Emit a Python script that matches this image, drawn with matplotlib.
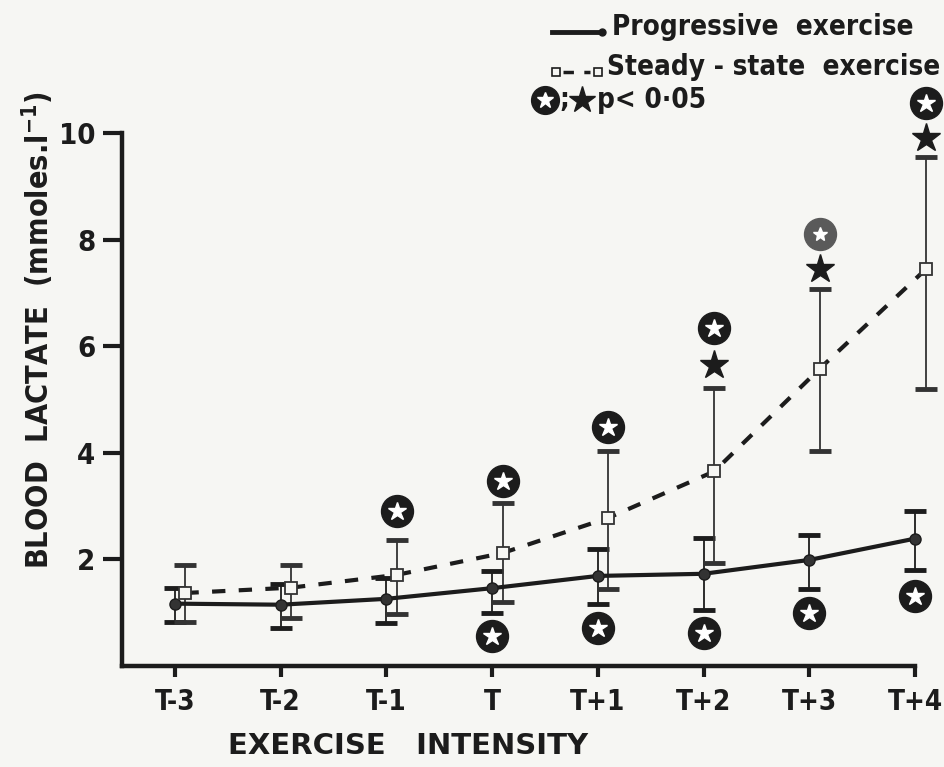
import matplotlib.pyplot as plt
from matplotlib import font_manager
import numpy as np

# condensed bold face if the system has one, Arial-like bold otherwise
_cond = font_manager.findfont(font_manager.FontProperties(family='DejaVu Sans', stretch='condensed',
                                                          weight='bold'))
if 'Condensed' in _cond:
    plt.rcParams['font.family'] = ['DejaVu Sans']
    plt.rcParams['font.stretch'] = 'condensed'
else:
    plt.rcParams['font.family'] = ['Liberation Sans', 'DejaVu Sans']
plt.rcParams['font.weight'] = 'bold'

INK = '#1c1c1c'
PAPER = '#f6f6f3'

labels = ['T-3', 'T-2', 'T-1', 'T', 'T+1', 'T+2', 'T+3', 'T+4']

# progressive exercise: mean with SD bounds
prog_mean = [1.17, 1.15, 1.26, 1.46, 1.69, 1.73, 1.99, 2.39]
prog_upper = [1.47, 1.54, 1.65, 1.79, 2.20, 2.41, 2.46, 2.90]
prog_lower = [0.83, 0.72, 0.80, 1.00, 1.17, 1.05, 1.45, 1.80]

# steady-state exercise
ss_mean = [1.37, 1.47, 1.71, 2.12, 2.78, 3.65, 5.58, 7.44]
ss_upper = [1.90, 1.90, 2.37, 3.05, 4.04, 5.22, 7.08, 9.55]
ss_lower = [0.83, 0.90, 0.98, 1.20, 1.45, 1.94, 4.04, 5.20]

# significance symbols
circ_ss_idx = [2, 3, 4, 5, 6, 7]
circ_ss_y = [2.90, 3.48, 4.48, 6.35, 8.10, 10.56]
star_idx = [5, 6, 7]
star_y = [5.64, 7.45, 9.90]
circ_prog_idx = [3, 4, 5, 6, 7]
circ_prog_y = [0.56, 0.72, 0.62, 1.00, 1.32]

x = np.arange(len(labels))
xs = x + 0.1   # steady-state points sit just right of the tick

fig = plt.figure(figsize=(9.45, 7.67), dpi=100, facecolor=PAPER)
ax = fig.add_axes([122/945, 101/767, 793/945, 533/767])
ax.set_facecolor(PAPER)


def circled_star(xv, yv, face=INK, inner=13.5):
    ax.plot(xv, yv, 'o', ms=23, color=face, mec=face, clip_on=False, zorder=6)
    ax.plot(xv, yv, '*', ms=inner, color='white', mec='white', clip_on=False, zorder=7)


def unclip(eb):
    for part in eb.lines:
        if part is None:
            continue
        for a in (part if isinstance(part, tuple) else [part]):
            a.set_clip_on(False)


pm = np.array(prog_mean)
eb = ax.errorbar(x, pm, yerr=[pm - np.array(prog_lower), np.array(prog_upper) - pm],
                 fmt='none', ecolor=INK, elinewidth=1.3, capsize=8, capthick=3.5, zorder=3)
unclip(eb)
ax.plot(x, pm, '-o', color=INK, lw=3, ms=8, mfc='#333333', mec=INK, zorder=4, clip_on=False)

sm = np.array(ss_mean)
eb = ax.errorbar(xs, sm, yerr=[sm - np.array(ss_lower), np.array(ss_upper) - sm],
                 fmt='none', ecolor='#333333', elinewidth=1.3, capsize=8, capthick=3.5, zorder=3)
unclip(eb)
ax.plot(xs, sm, color=INK, lw=3, dashes=(3.2, 3.2), zorder=2, clip_on=False)
ax.plot(xs, sm, 's', ms=8, mfc=PAPER, mec='#333333', mew=1.3, zorder=5, clip_on=False)

for i, yv in zip(circ_ss_idx, circ_ss_y):
    if labels[i] == 'T+3':
        circled_star(xs[i], yv, face='#5a5a5a', inner=10)
    else:
        circled_star(xs[i], yv)
ax.plot(xs[star_idx], star_y, '*', ms=21, color=INK, clip_on=False, zorder=6)
for i, yv in zip(circ_prog_idx, circ_prog_y):
    circled_star(x[i], yv)

ax.set_xlim(-0.5, 7)
ax.set_ylim(0, 10)
ax.spines['top'].set_visible(False)
ax.spines['right'].set_visible(False)
for s in ('left', 'bottom'):
    ax.spines[s].set_linewidth(3.2)
    ax.spines[s].set_color(INK)
ax.spines['left'].set_bounds(0, 10)

ax.set_xticks(x)
ax.set_xticklabels(labels)
ax.set_yticks([2, 4, 6, 8, 10])
ax.tick_params(axis='x', length=8, width=3, color=INK, labelsize=20, pad=8, labelcolor=INK)
ax.tick_params(axis='y', length=14, width=3, color=INK, labelsize=21, pad=5, labelcolor=INK)

fig.text(38/945, 1 - 330/767, 'BLOOD  LACTATE  (mmoles.l$^{\\mathbf{-1}}$)', rotation=90,
         ha='center', va='center', fontsize=22, color=INK)
fig.text(408/945, 1 - 746/767, 'EXERCISE   INTENSITY', ha='center', va='center',
         fontsize=21, fontstretch='normal', color=INK)


# key in the top right corner
def fx(px):
    return px / 945


def fy(py):
    return 1 - py / 767


fig.add_artist(plt.Line2D([fx(552), fx(602)], [fy(32), fy(32)], color=INK, lw=3.5))
fig.add_artist(plt.Line2D([fx(602)], [fy(32)], marker='o', ms=5, color=INK))
fig.text(fx(612), fy(27), 'Progressive  exercise', fontsize=20, va='center', color=INK)

fig.add_artist(plt.Line2D([fx(563), fx(590)], [fy(72), fy(72)], color=INK, lw=2.5,
                          dashes=(3, 3)))
fig.add_artist(plt.Line2D([fx(556), fx(598)], [fy(72), fy(72)], ls='none', marker='s',
                          ms=6, mfc=PAPER, mec=INK, mew=1.2))
fig.text(fx(607), fy(67), 'Steady - state  exercise', fontsize=20, va='center', color=INK)

fig.add_artist(plt.Line2D([fx(545)], [fy(100)], marker='o', ms=20, color=INK))
fig.add_artist(plt.Line2D([fx(545)], [fy(100)], marker='*', ms=12, color='white'))
fig.text(fx(559), fy(100), ';', fontsize=20, va='center', color=INK)
fig.add_artist(plt.Line2D([fx(582)], [fy(100)], marker='*', ms=20, color=INK))
fig.text(fx(597), fy(100), 'p< 0·05', fontsize=20, va='center', color=INK)

fig.savefig('out.png', dpi=100, facecolor=PAPER)
